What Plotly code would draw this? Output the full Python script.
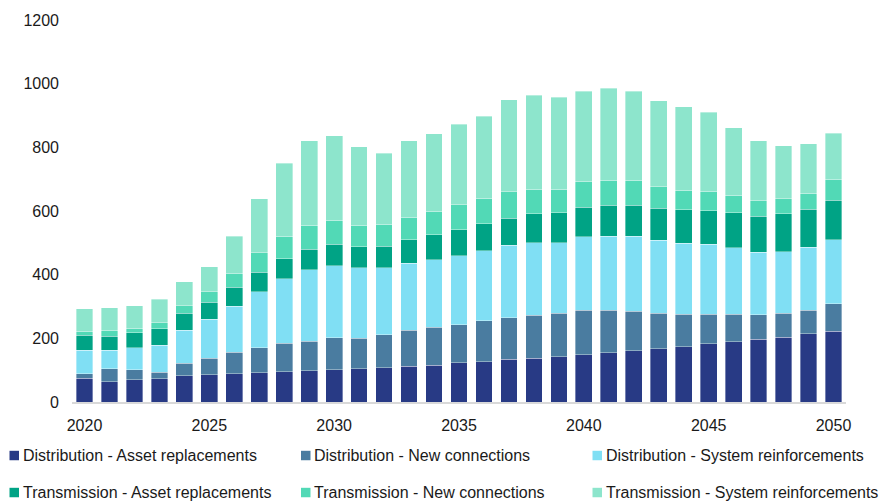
import plotly.graph_objects as go

# Annual network investment by category, 2020-2050
years = list(range(2020, 2051))

dist_asset = [75, 64, 70, 73, 83, 86, 89, 92, 95, 98, 102, 105, 108, 113, 116, 123,
              126, 134, 137, 142, 148, 155, 161, 167, 173, 183, 189, 197, 204, 214, 223]
dist_new = [13, 40, 31, 21, 39, 52, 67, 79, 89, 93, 100, 96, 103, 112, 119, 119,
            130, 130, 135, 137, 140, 133, 124, 112, 102, 93, 87, 77, 75, 74, 85]
dist_sys = [74, 58, 70, 85, 104, 122, 145, 176, 203, 224, 226, 220, 210, 211, 212, 217,
            219, 228, 228, 221, 231, 233, 236, 229, 224, 219, 208, 196, 193, 198, 202]
trans_asset = [48, 45, 46, 51, 53, 53, 59, 60, 63, 65, 68, 67, 69, 74, 78, 82,
               85, 86, 91, 94, 93, 97, 97, 100, 105, 106, 110, 114, 119, 120, 124]
trans_new = [12, 18, 15, 19, 24, 34, 45, 62, 71, 76, 75, 68, 68, 71, 74, 79,
             80, 83, 78, 75, 81, 78, 78, 68, 61, 61, 55, 48, 48, 50, 66]
trans_sys = [71, 71, 71, 74, 75, 78, 116, 170, 229, 265, 265, 246, 224, 239, 243, 253,
             258, 288, 294, 288, 283, 289, 280, 271, 262, 248, 212, 189, 166, 155, 145]

series_names = [
    "Distribution - Asset replacements",
    "Distribution - New connections",
    "Distribution - System reinforcements",
    "Transmission - Asset replacements",
    "Transmission - New connections",
    "Transmission - System reinforcements",
]
series_values = [dist_asset, dist_new, dist_sys, trans_asset, trans_new, trans_sys]
colors = ["#283a85", "#4a7ca0", "#80dff4", "#00a385", "#52d9b6", "#8de5cc"]

x_ticks = [2020, 2025, 2030, 2035, 2040, 2045, 2050]
y_ticks = [0, 200, 400, 600, 800, 1000, 1200]

FONT = "Liberation Sans, Arial, sans-serif"
TEXT_COLOR = "#1a1a1a"

W, H = 891, 503
M_L, M_R, M_T, M_B = 72, 45, 18, 101
plot_w = W - M_L - M_R
plot_h = H - M_T - M_B

fig = go.Figure()
for name, vals, col in zip(series_names, series_values, colors):
    fig.add_trace(go.Bar(
        x=years, y=vals, name=name,
        marker=dict(color=col, line=dict(color="rgba(255,255,255,0.6)", width=0.6)),
        showlegend=False,
    ))


def px_to_paper_x(px):
    return (px - M_L) / plot_w


def px_to_paper_y(py):
    return (H - M_B - py) / plot_h


# Legend laid out as a 3 x 2 grid below the chart
col_left = [9.5, 301.0, 592.5]
row_mid = [455.8, 493.0]
sq = 9.5
shapes = []
annotations = []
for i, (name, col) in enumerate(zip(series_names, colors)):
    cx = col_left[i % 3]
    cy = row_mid[i // 3]
    shapes.append(dict(
        type="rect", xref="paper", yref="paper",
        x0=px_to_paper_x(cx), x1=px_to_paper_x(cx + sq),
        y0=px_to_paper_y(cy + sq / 2), y1=px_to_paper_y(cy - sq / 2),
        fillcolor=col, line=dict(width=0),
    ))
    annotations.append(dict(
        text=name, xref="paper", yref="paper",
        x=px_to_paper_x(cx + sq + 1.5), y=px_to_paper_y(cy),
        xanchor="left", yanchor="middle", showarrow=False,
        font=dict(family=FONT, size=16, color=TEXT_COLOR),
    ))

fig.update_layout(
    barmode="stack",
    bargap=0.33,
    width=W, height=H,
    margin=dict(l=M_L, r=M_R, t=M_T, b=M_B),
    paper_bgcolor="white",
    plot_bgcolor="white",
    font=dict(family=FONT, size=16, color=TEXT_COLOR),
    shapes=shapes,
    annotations=annotations,
    showlegend=False,
)
fig.update_xaxes(
    range=[2019.5, 2050.5],
    tickmode="array", tickvals=x_ticks, ticktext=[str(v) for v in x_ticks],
    showline=True, linecolor="#d9d9d9", linewidth=2,
    showgrid=False, zeroline=False, ticks="",
    ticklabelstandoff=8,
    tickfont=dict(family=FONT, size=16, color=TEXT_COLOR),
)
fig.update_yaxes(
    range=[0, 1200],
    tickmode="array", tickvals=y_ticks, ticktext=[str(v) for v in y_ticks],
    showline=False, showgrid=False, zeroline=False, ticks="",
    ticklabelstandoff=12,
    tickfont=dict(family=FONT, size=16, color=TEXT_COLOR),
)

fig.write_html("out.html")
